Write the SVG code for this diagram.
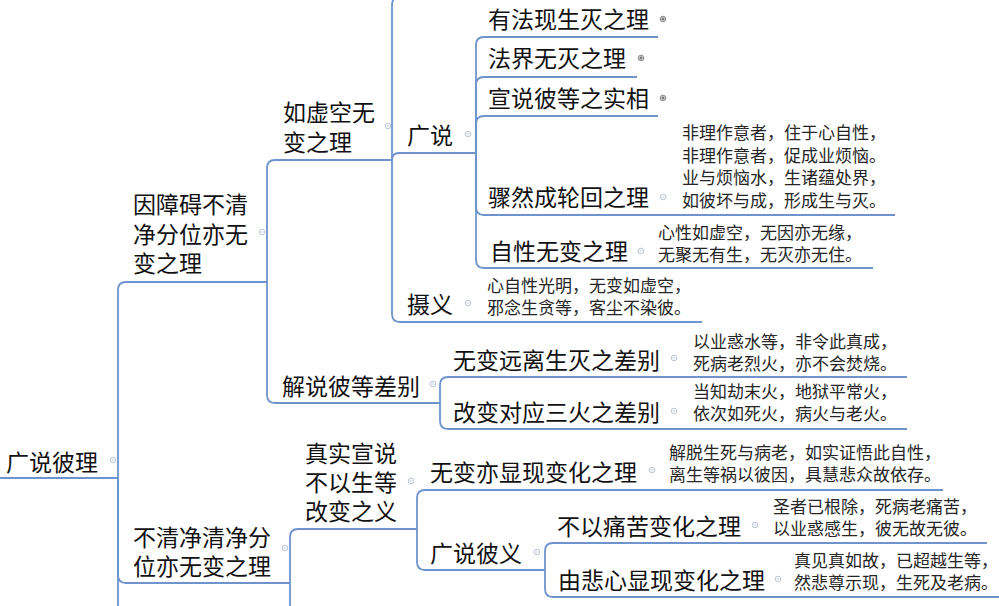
<svg xmlns="http://www.w3.org/2000/svg" xmlns:xlink="http://www.w3.org/1999/xlink" width="999" height="606" viewBox="0 0 999 606">
<style>
text{font-family:"Noto Sans CJK SC","Noto Sans CJK JP",sans-serif}
.t{font-size:23px;fill:#111}
.n{font-size:17px;fill:#262626}
.u{stroke:#6f94cd;stroke-width:1.8;fill:none}
.k{stroke:#6f94cd;stroke-width:1.8;fill:none}
</style>
<defs>
<g id="minus"><circle r="2.8" fill="#fff" stroke="#b8c4d4" stroke-width="1"/><line x1="-1.4" y1="0" x2="1.4" y2="0" stroke="#b8c4d4" stroke-width="0.9"/></g>
<g id="plus"><circle r="2.8" fill="#d9d9d9" stroke="#8a8a8a" stroke-width="1"/><line x1="-1.5" y1="0" x2="1.5" y2="0" stroke="#555" stroke-width="0.9"/><line x1="0" y1="-1.5" x2="0" y2="1.5" stroke="#555" stroke-width="0.9"/></g>
</defs>
<rect width="999" height="606" fill="#fff"/>
<g id="connectors">
<path class="k" d="M118,478 L118,290 Q118,282 126,282"/>
<path class="k" d="M118,478 L118,575 Q118,583 126,583"/>
<path class="k" d="M118,478 L118,606"/>
<path class="k" d="M267,282 L267,168 Q267,160 275,160"/>
<path class="k" d="M267,282 L267,395 Q267,403 275,403"/>
<path class="k" d="M392,160 L392,5 Q392,-3 400,-3"/>
<path class="k" d="M392,160 Q392,153 399,153"/>
<path class="k" d="M392,160 L392,314 Q392,322 400,322"/>
<path class="k" d="M476,153 L476,45 Q476,37 484,37"/>
<path class="k" d="M476,153 L476,85 Q476,77 484,77"/>
<path class="k" d="M476,153 L476,124 Q476,116 484,116"/>
<path class="k" d="M476,153 L476,207 Q476,215 484,215"/>
<path class="k" d="M476,153 L476,260 Q476,268 484,268"/>
<path class="k" d="M440,403 L440,385 Q440,377 448,377"/>
<path class="k" d="M440,403 L440,421 Q440,429 448,429"/>
<path class="k" d="M290,583 L290,537 Q290,529 298,529"/>
<path class="k" d="M290,583 L290,606"/>
<path class="k" d="M417,529 L417,498 Q417,490 425,490"/>
<path class="k" d="M417,529 L417,562 Q417,570 425,570"/>
<path class="k" d="M545,570 L545,551 Q545,543 553,543"/>
<path class="k" d="M545,570 L545,589 Q545,597 553,597"/>
</g>
<g id="n-root"><text class="t" x="6" y="471">广说彼理</text><path class="u" d="M0,478 H118"/><use href="#minus" x="113" y="460"/></g>
<g id="n-1"><text class="t" x="133" y="213"><tspan x="133">因障碍不清</tspan><tspan x="133" dy="29.5">净分位亦无</tspan><tspan x="133" dy="29.5">变之理</tspan></text><path class="u" d="M126,282 H267"/><use href="#minus" x="262" y="232"/></g>
<g id="n-2"><text class="t" x="283" y="121"><tspan x="283">如虚空无</tspan><tspan x="283" dy="30">变之理</tspan></text><path class="u" d="M275,160 H392"/><use href="#minus" x="388" y="126"/></g>
<g id="n-3"><text class="t" x="407" y="144">广说</text><path class="u" d="M399,153 H476"/><use href="#minus" x="468" y="134"/></g>
<g id="n-4"><text class="t" x="488" y="28">有法现生灭之理</text><path class="u" d="M484,37 H658"/><use href="#plus" x="663" y="19"/></g>
<g id="n-5"><text class="t" x="488" y="67">法界无灭之理</text><path class="u" d="M484,77 H637"/><use href="#plus" x="641" y="58"/></g>
<g id="n-6"><text class="t" x="488" y="107">宣说彼等之实相</text><path class="u" d="M484,116 H658"/><use href="#plus" x="663" y="98"/></g>
<g id="n-7"><text class="t" x="488" y="206">骤然成轮回之理</text><text class="n" x="682" y="139"><tspan x="682">非理作意者，住于心自性，</tspan><tspan x="682" dy="22.7">非理作意者，促成业烦恼。</tspan><tspan x="682" dy="22.7">业与烦恼水，生诸蕴处界，</tspan><tspan x="682" dy="22.7">如彼坏与成，形成生与灭。</tspan></text><path class="u" d="M484,215 H895"/><use href="#minus" x="663" y="197"/></g>
<g id="n-8"><text class="t" x="490" y="260">自性无变之理</text><text class="n" x="658" y="238.6"><tspan x="658">心性如虚空，无因亦无缘，</tspan><tspan x="658" dy="22.7">无聚无有生，无灭亦无住。</tspan></text><path class="u" d="M484,268 H873"/><use href="#minus" x="641" y="251"/></g>
<g id="n-9"><text class="t" x="407" y="313">摄义</text><text class="n" x="487" y="291.6"><tspan x="487">心自性光明，无变如虚空，</tspan><tspan x="487" dy="22.7">邪念生贪等，客尘不染彼。</tspan></text><path class="u" d="M400,322 H702"/><use href="#minus" x="468" y="303"/></g>
<g id="n-10"><text class="t" x="282" y="395">解说彼等差别</text><path class="u" d="M275,403 H440"/><use href="#minus" x="433" y="384"/></g>
<g id="n-11"><text class="t" x="453" y="369">无变远离生灭之差别</text><text class="n" x="693" y="347.6"><tspan x="693">以业惑水等，非令此真成，</tspan><tspan x="693" dy="22.4">死病老烈火，亦不会焚烧。</tspan></text><path class="u" d="M448,377 H907"/><use href="#minus" x="674" y="358"/></g>
<g id="n-12"><text class="t" x="453" y="421">改变对应三火之差别</text><text class="n" x="693" y="397.6"><tspan x="693">当知劫末火，地狱平常火，</tspan><tspan x="693" dy="22.4">依次如死火，病火与老火。</tspan></text><path class="u" d="M448,429 H907"/><use href="#minus" x="674" y="411"/></g>
<g id="n-13"><text class="t" x="133" y="546"><tspan x="133">不清净清净分</tspan><tspan x="133" dy="29">位亦无变之理</tspan></text><path class="u" d="M126,583 H290"/><use href="#minus" x="285" y="548"/></g>
<g id="n-14"><text class="t" x="305" y="462"><tspan x="305">真实宣说</tspan><tspan x="305" dy="29">不以生等</tspan><tspan x="305" dy="29">改变之义</tspan></text><path class="u" d="M298,529 H417"/><use href="#minus" x="411" y="481"/></g>
<g id="n-15"><text class="t" x="430" y="481">无变亦显现变化之理</text><text class="n" x="669" y="458.6"><tspan x="669">解脱生死与病老，如实证悟此自性，</tspan><tspan x="669" dy="22.7">离生等祸以彼因，具慧悲众故依存。</tspan></text><path class="u" d="M425,490 H943"/><use href="#minus" x="652" y="470"/></g>
<g id="n-16"><text class="t" x="430" y="562">广说彼义</text><path class="u" d="M425,570 H545"/><use href="#minus" x="537" y="552"/></g>
<g id="n-17"><text class="t" x="557" y="535">不以痛苦变化之理</text><text class="n" x="773" y="512.6"><tspan x="773">圣者已根除，死病老痛苦，</tspan><tspan x="773" dy="22.7">以业惑感生，彼无故无彼。</tspan></text><path class="u" d="M553,543 H987"/><use href="#minus" x="755" y="525"/></g>
<g id="n-18"><text class="t" x="558" y="589">由悲心显现变化之理</text><text class="n" x="794" y="566.6"><tspan x="794">真见真如故，已超越生等，</tspan><tspan x="794" dy="22.7">然悲尊示现，生死及老病。</tspan></text><path class="u" d="M553,597 H999"/><use href="#minus" x="778" y="579"/></g>
</svg>
